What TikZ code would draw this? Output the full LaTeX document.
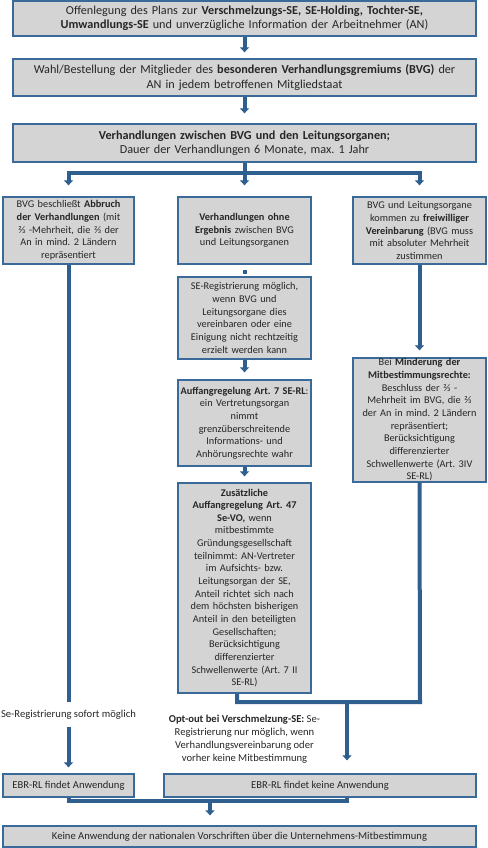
\documentclass[tikz,border=0pt]{standalone}
\usepackage{fontspec}
\setmainfont{Carlito}
\usetikzlibrary{arrows.meta,calc}
\definecolor{linecol}{HTML}{2F5F8F}
\definecolor{bordercol}{HTML}{3A6A9A}
\definecolor{boxfill}{HTML}{D4D4D4}
\definecolor{textcol}{HTML}{262626}
\newcommand\topsize{\fontsize{12.2}{14.4}\selectfont}
\newcommand\lowsize{\fontsize{10.3}{12.65}\selectfont}
\newcommand\botsize{\fontsize{10.6}{12.9}\selectfont}
\frenchspacing
\tikzset{
  box/.style={draw=bordercol, line width=1.3pt, fill=boxfill, inner sep=0pt, align=center, text=textcol},
  conn/.style={draw=linecol, line width=4pt},
  arr/.style={conn, -{Triangle[width=9pt,length=5pt]}},
  plain/.style={inner sep=0pt, align=center, text=textcol, font=\botsize},
}
\begin{document}
\begin{tikzpicture}[x=1pt,y=1pt]
\useasboundingbox (0,0) rectangle (487,-848);
% top boxes
\node[box, minimum width=463pt, minimum height=35pt, text width=458pt, font=\topsize] (b1) at (244.5,-18.5)
 {Offenlegung des Plans zur \textbf{Verschmelzungs-SE, SE-Holding, Tochter-SE,}\\ \textbf{Umwandlungs-SE} und unverzügliche Information der Arbeitnehmer (AN)};
\node[box, minimum width=463pt, minimum height=37pt, text width=458pt, font=\topsize] (b2) at (244.5,-77.5)
 {Wahl/Bestellung der Mitglieder des \textbf{besonderen Verhandlungsgremiums (BVG)} der\\ AN in jedem betroffenen Mitgliedstaat};
\node[box, minimum width=463pt, minimum height=38pt, text width=458pt, font=\topsize] (b3) at (244.5,-143)
 {\textbf{Verhandlungen zwischen BVG und den Leitungsorganen;}\\ Dauer der Verhandlungen 6 Monate, max. 1 Jahr};
% three branches
\node[box, minimum width=131pt, minimum height=67pt, text width=129pt, font=\lowsize] (L) at (68.5,-230.5)
 {BVG beschließt \textbf{Abbruch}\\ \textbf{der Verhandlungen} (mit\\ ⅔ -Mehrheit, die ⅔ der\\ An in mind. 2 Ländern\\ repräsentiert};
\node[box, minimum width=133pt, minimum height=67pt, text width=131pt, font=\lowsize] (M) at (244.5,-230.5)
 {\textbf{Verhandlungen ohne}\\ \textbf{Ergebnis} zwischen BVG\\ und Leitungsorganen};
\node[box, minimum width=133pt, minimum height=67pt, text width=131pt, font=\lowsize] (R) at (419.5,-230.5)
 {BVG und Leitungsorgane\\ kommen zu \textbf{freiwilliger}\\ \textbf{Vereinbarung} (BVG muss\\ mit absoluter Mehrheit\\ zustimmen};
% middle column
\node[fill=linecol, minimum size=4pt, inner sep=0pt] (sq) at ($(M.south)+(0,-7)$) {};
\node[box, minimum width=133pt, minimum height=82pt, text width=131pt, font=\lowsize] (S) at (244.5,-318)
 {SE-Registrierung möglich,\\ wenn BVG und\\ Leitungsorgane dies\\ vereinbaren oder eine\\ Einigung nicht rechtzeitig\\ erzielt werden kann};
\node[box, minimum width=133pt, minimum height=86pt, text width=131pt, font=\lowsize] (A) at (244.5,-423)
 {\textbf{Auffangregelung Art. 7 SE-RL}:\\ ein Vertretungsorgan\\ nimmt\\ grenzüberschreitende\\ Informations- und\\ Anhörungsrechte wahr};
\node[box, minimum width=133pt, minimum height=210pt, text width=131pt, font=\lowsize] (Z) at (244.5,-588)
 {\textbf{Zusätzliche}\\ \textbf{Auffangregelung Art. 47}\\ \textbf{Se-VO,} wenn\\ mitbestimmte\\ Gründungsgesellschaft\\ teilnimmt: AN-Vertreter\\ im Aufsichts- bzw.\\ Leitungsorgan der SE,\\ Anteil richtet sich nach\\ dem höchsten bisherigen\\ Anteil in den beteiligten\\ Gesellschaften;\\ Berücksichtigung\\ differenzierter\\ Schwellenwerte (Art. 7 II\\ SE-RL)};
% right column
\node[box, minimum width=133pt, minimum height=124pt, text width=131pt, font=\lowsize] (Mi) at (419.5,-420)
 {Bei \textbf{Minderung der}\\ \textbf{Mitbestimmungsrechte:}\\ Beschluss der ⅔ -\\ Mehrheit im BVG, die ⅔\\ der An in mind. 2 Ländern\\ repräsentiert;\\ Berücksichtigung\\ differenzierter\\ Schwellenwerte (Art. 3IV\\ SE-RL)};
% texts
\node[plain, minimum height=25pt] (sofort) at (68.5,-714.5) {Se-Registrierung sofort möglich};
\node[plain] (opt) at (244.5,-739)
 {\textbf{Opt-out bei Verschmelzung-SE:} Se-\\ Registrierung nur möglich, wenn\\ Verhandlungsvereinbarung oder\\ vorher keine Mitbestimmung};
% bottom boxes
\node[box, minimum width=131pt, minimum height=23pt, font=\botsize] (EL) at (68.5,-785.5) {EBR-RL findet Anwendung};
\node[box, minimum width=312pt, minimum height=23pt, font=\botsize] (ER) at (320,-785.5) {EBR-RL findet keine Anwendung};
\node[box, minimum width=473pt, minimum height=21pt, font=\botsize] (F) at (239.5,-836.5) {Keine Anwendung der nationalen Vorschriften über die Unternehmens-Mitbestimmung};
% connectors
\draw[arr] (b1.south) -- ($(b2.north)+(0,6)$);
\draw[arr] (b2.south) -- ($(b3.north)+(0,10)$);
\coordinate (sp) at ($(b3.south)+(0,-10)$);
\draw[arr] (b3.south) -- ($(M.north)+(0,11)$);
\draw[arr] (sp) -| ($(L.north)+(0,11)$);
\draw[arr] (sp) -| ($(R.north)+(0,11)$);
\draw[arr] (S.south) -- ($(A.north)+(0,7)$);
\draw[arr] (A.south) -- ($(Z.north)+(0,6)$);
\draw[arr] (R.south) -- ($(Mi.north)+(0,7)$);
\coordinate (zb) at ($(Z.south)+(-7.5,0)$);
\coordinate (j1) at (420,-702);
\draw[conn] (Mi.south) -- (j1) -- (j1 -| zb) -- (zb);
\coordinate (j2) at (347,-702);
\draw[arr] (j2) -- ($(ER.north -| j2)+(0,13)$);
\draw[conn] (L.south) -- (sofort.north);
\draw[arr] (sofort.south) -- ($(EL.north)+(0,6)$);
\coordinate (j3) at (347,-801);
\draw[conn] (EL.south) |- (j3) -- (j3 |- ER.south);
\coordinate (j4) at (210,-801);
\draw[arr] (j4) -- ($(F.north -| j4)+(0,10)$);
\end{tikzpicture}
\end{document}
